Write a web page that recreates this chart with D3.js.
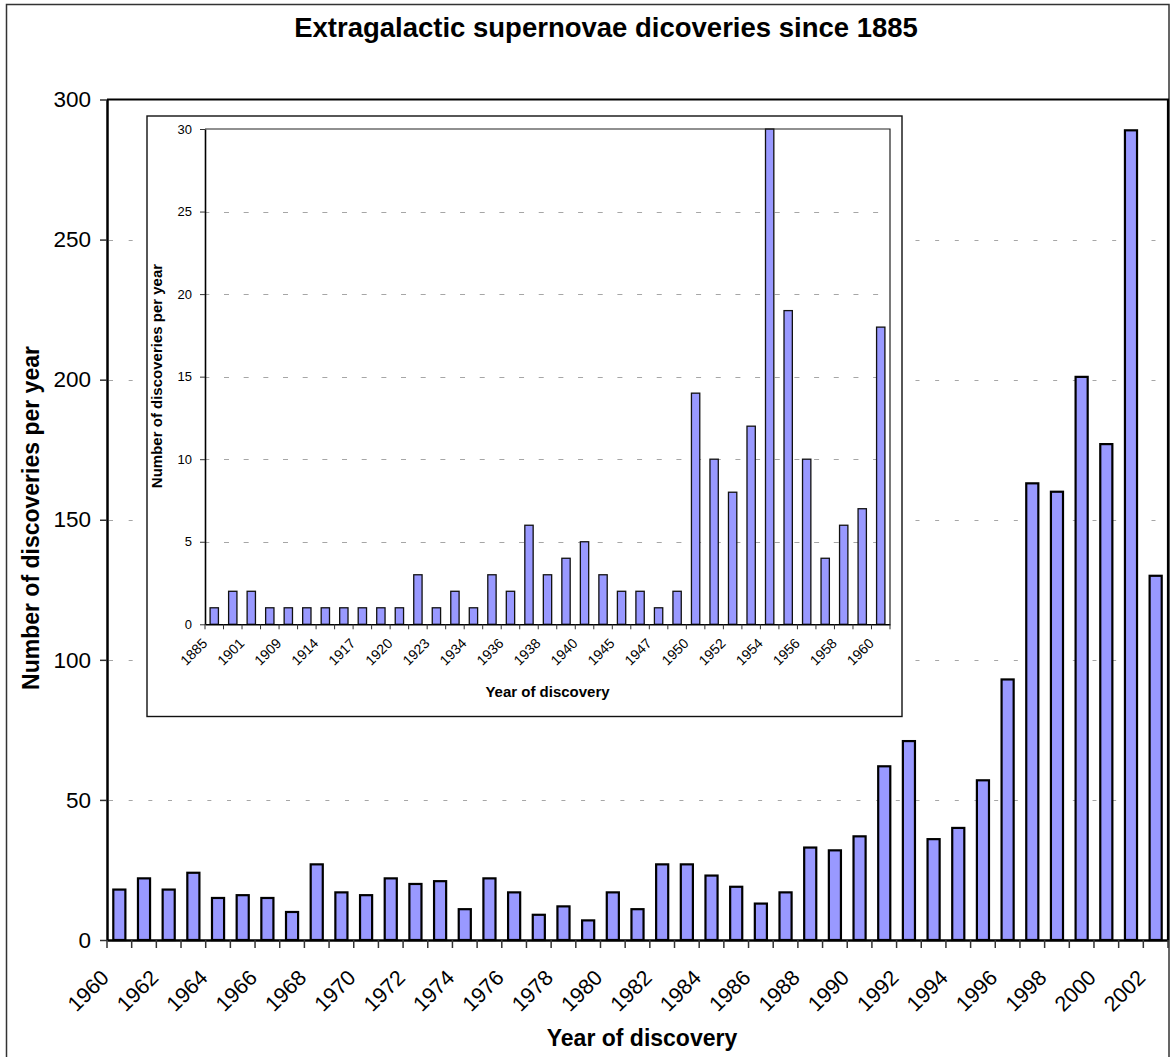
<!DOCTYPE html>
<html>
<head>
<meta charset="utf-8">
<script src="https://cdn.jsdelivr.net/npm/d3@7"></script>
<style>
  body { margin: 0; background: #fff; }
  svg { display: block; font-family: "Liberation Sans", Arial, sans-serif; }
</style>
</head>
<body>
<svg id="chart" width="1175" height="1057"></svg>
<script>
// ---------- DATA ----------
const mainYears = ["1960","1961","1962","1963","1964","1965","1966","1967","1968","1969",
  "1970","1971","1972","1973","1974","1975","1976","1977","1978","1979",
  "1980","1981","1982","1983","1984","1985","1986","1987","1988","1989",
  "1990","1991","1992","1993","1994","1995","1996","1997","1998","1999",
  "2000","2001","2002"];
const mainCounts = [18,22,18,24,15,16,15,10,27,17,
  16,22,20,21,11,22,17,9,12,7,
  17,11,27,27,23,19,13,17,33,32,
  37,62,71,36,40,57,93,163,160,201,
  177,289,130];
const mainYTicks = [0,50,100,150,200,250,300];
const mainGridValues = [50,100,150,200,250];

const insetYears = ["1885","1895","1901","1907","1909","1912","1914","1916","1917","1919",
  "1920","1921","1923","1926","1934","1935","1936","1937","1938","1939",
  "1940","1941","1945","1946","1947","1949","1950","1951","1952","1953",
  "1954","1955","1956","1957","1958","1959","1960"];
const insetCounts = [1,2,2,1,1,1,1,1,1,1,
  1,3,1,2,1,3,2,6,3,4,
  5,3,2,2,1,2,14,10,8,12,
  30,19,10,4,6,7,18];
const insetYTicks = [0,5,10,15,20,25,30];
const insetGridValues = [5,10,15,20,25];

const titleText = "Extragalactic supernovae dicoveries since 1885";
const yTitleText = "Number of discoveries per year";
const xTitleText = "Year of discovery";

// ---------- DRAW ----------
const svg = d3.select("#chart");
const FONT = '"Liberation Sans", Arial, sans-serif';

// outer chart frame
svg.append("rect").attr("x", 6.5).attr("y", 4.5).attr("width", 1162.5).attr("height", 1070)
  .attr("fill", "#fff").attr("stroke", "#333").attr("stroke-width", 1.5);

// title
svg.append("text").attr("x", 606).attr("y", 37).attr("text-anchor", "middle")
  .style("font-size", "27.5px").style("font-weight", "bold").text(titleText);

// ---- main chart ----
const M = { left: 107, right: 1168, top: 99.5, bottom: 940 };
const x = d3.scaleBand().domain(mainYears).range([M.left, M.right]).paddingInner(0).paddingOuter(0);
const y = d3.scaleLinear().domain([0, 300]).range([M.bottom, M.top]);

// gridlines
svg.append("g").selectAll("line").data(mainGridValues).join("line")
  .attr("x1", M.left).attr("x2", M.right)
  .attr("y1", d => Math.round(y(d)) + 0.5).attr("y2", d => Math.round(y(d)) + 0.5)
  .attr("stroke", "#a6a6a6").attr("stroke-width", 1)
  .attr("stroke-dasharray", "4 15.67").attr("stroke-dashoffset", -2);

// bars
const bwMain = x.bandwidth() * 0.49;
svg.append("g").selectAll("rect").data(mainYears).join("rect")
  .attr("x", d => x(d) + (x.bandwidth() - bwMain) / 2)
  .attr("y", (d, i) => y(mainCounts[i]))
  .attr("width", bwMain)
  .attr("height", (d, i) => y(0) - y(mainCounts[i]))
  .attr("fill", "#9999ff").attr("stroke", "#000").attr("stroke-width", 2.2);

// plot area border (top, right)
svg.append("path")
  .attr("d", `M${M.left},${M.top}H${M.right}V${M.bottom}`)
  .attr("fill", "none").attr("stroke", "#000").attr("stroke-width", 2.2);

// y axis
const yAxis = svg.append("g").attr("transform", `translate(${M.left},0)`)
  .call(d3.axisLeft(y).tickValues(mainYTicks).tickSize(7).tickPadding(9).tickSizeOuter(0));
yAxis.select(".domain").attr("stroke", "#000").attr("stroke-width", 2.5);
yAxis.selectAll(".tick line").attr("stroke", "#333").attr("stroke-width", 1.5);
yAxis.selectAll(".tick text").style("font-size", "22.5px").style("font-family", FONT).attr("fill", "#000");

// x axis
const xAxis = svg.append("g").attr("transform", `translate(0,${M.bottom})`)
  .call(d3.axisBottom(x).tickValues(mainYears.filter((d, i) => i % 2 === 0)).tickSize(0).tickSizeOuter(0));
xAxis.select(".domain").attr("stroke", "#000").attr("stroke-width", 2.5);
xAxis.selectAll(".tick text")
  .attr("y", null).attr("dy", null)
  .attr("transform", "translate(-9,39) rotate(-45)")
  .style("text-anchor", "end").style("font-size", "21.5px").style("font-family", FONT).attr("fill", "#000");
// boundary tick marks
svg.append("g").selectAll("line").data(mainYears.concat(["__end"])).join("line")
  .attr("x1", d => d === "__end" ? M.right : x(d)).attr("x2", d => d === "__end" ? M.right : x(d))
  .attr("y1", M.bottom).attr("y2", M.bottom + 8)
  .attr("stroke", "#333").attr("stroke-width", 1.5);

// axis titles
svg.append("text").attr("x", 642).attr("y", 1046).attr("text-anchor", "middle")
  .style("font-size", "23px").style("font-weight", "bold").text(xTitleText);
svg.append("text").attr("transform", "translate(39,518) rotate(-90)").attr("text-anchor", "middle")
  .style("font-size", "23px").style("font-weight", "bold").text(yTitleText);

// ---- inset chart ----
svg.append("rect").attr("x", 147).attr("y", 116).attr("width", 755).attr("height", 600.5)
  .attr("fill", "#fff").attr("stroke", "#111").attr("stroke-width", 1.4);

const I = { left: 205, right: 890, top: 129, bottom: 624.3 };
const xi = d3.scaleBand().domain(insetYears).range([I.left, I.right]).paddingInner(0).paddingOuter(0);
const yi = d3.scaleLinear().domain([0, 30]).range([I.bottom, I.top]);

svg.append("g").selectAll("line").data(insetGridValues).join("line")
  .attr("x1", I.left).attr("x2", I.right)
  .attr("y1", d => Math.round(yi(d)) + 0.5).attr("y2", d => Math.round(yi(d)) + 0.5)
  .attr("stroke", "#a6a6a6").attr("stroke-width", 1)
  .attr("stroke-dasharray", "5 14.67").attr("stroke-dashoffset", -19);

const bwIn = xi.bandwidth() * 0.45;
svg.append("g").selectAll("rect").data(insetYears).join("rect")
  .attr("x", d => xi(d) + (xi.bandwidth() - bwIn) / 2)
  .attr("y", (d, i) => yi(insetCounts[i]))
  .attr("width", bwIn)
  .attr("height", (d, i) => yi(0) - yi(insetCounts[i]))
  .attr("fill", "#9999ff").attr("stroke", "#111").attr("stroke-width", 1.3);

svg.append("path")
  .attr("d", `M${I.left},${I.top}H${I.right}V${I.bottom}`)
  .attr("fill", "none").attr("stroke", "#222").attr("stroke-width", 1.2);

const yiAxis = svg.append("g").attr("transform", `translate(${I.left},0)`)
  .call(d3.axisLeft(yi).tickValues(insetYTicks).tickSize(5).tickPadding(8).tickSizeOuter(0));
yiAxis.select(".domain").attr("stroke", "#000").attr("stroke-width", 1.6);
yiAxis.selectAll(".tick line").attr("stroke", "#333").attr("stroke-width", 1);
yiAxis.selectAll(".tick text").style("font-size", "13px").style("font-family", FONT).attr("fill", "#000");

const xiAxis = svg.append("g").attr("transform", `translate(0,${I.bottom})`)
  .call(d3.axisBottom(xi).tickValues(insetYears.filter((d, i) => i % 2 === 0)).tickSize(0).tickSizeOuter(0));
xiAxis.select(".domain").attr("stroke", "#000").attr("stroke-width", 1.6);
xiAxis.selectAll(".tick text")
  .attr("y", null).attr("dy", null)
  .attr("transform", "translate(-6,20) rotate(-45)")
  .style("text-anchor", "end").style("font-size", "14px").style("font-family", FONT).attr("fill", "#000");
svg.append("g").selectAll("line").data(insetYears.concat(["__end"])).join("line")
  .attr("x1", d => d === "__end" ? I.right : xi(d)).attr("x2", d => d === "__end" ? I.right : xi(d))
  .attr("y1", I.bottom).attr("y2", I.bottom + 5)
  .attr("stroke", "#333").attr("stroke-width", 1);

svg.append("text").attr("x", 547.5).attr("y", 697).attr("text-anchor", "middle")
  .style("font-size", "15px").style("font-weight", "bold").text(xTitleText);
svg.append("text").attr("transform", "translate(162,376) rotate(-90)").attr("text-anchor", "middle")
  .style("font-size", "15px").style("font-weight", "bold").text(yTitleText);
</script>
</body>
</html>
